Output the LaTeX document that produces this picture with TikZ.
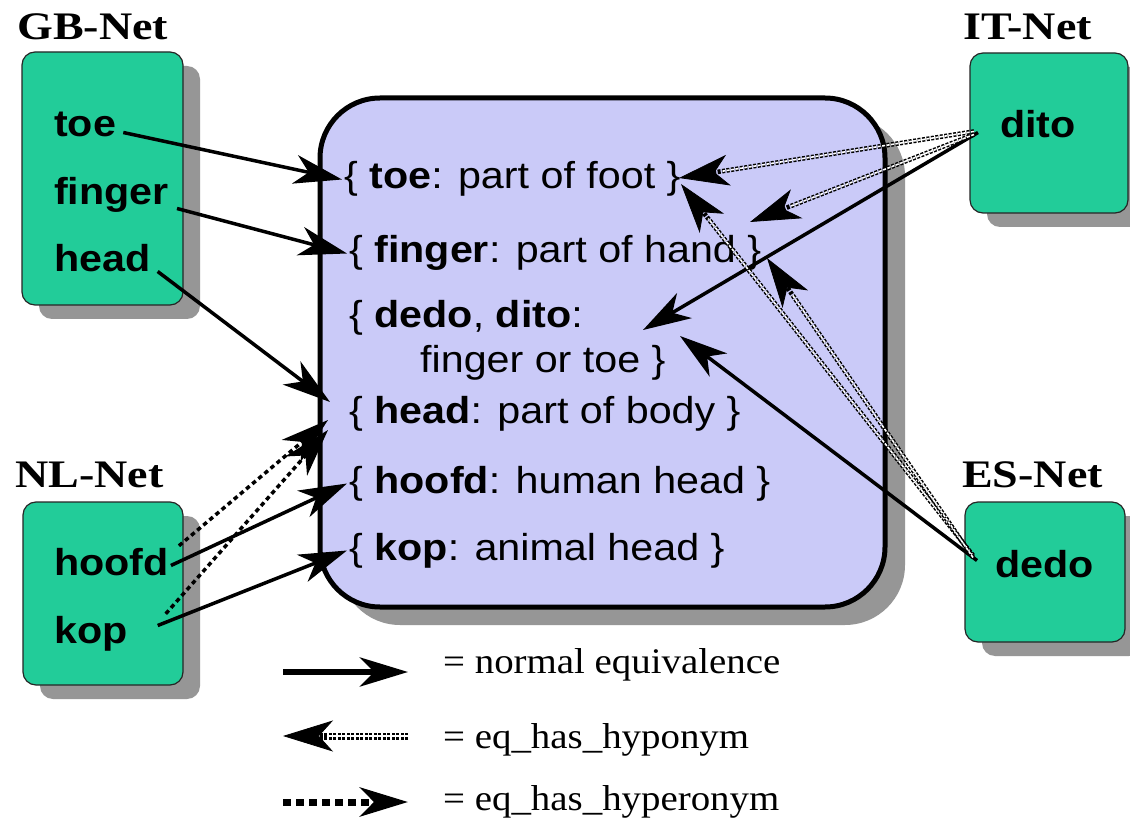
\documentclass[tikz,border=0pt]{standalone}
\usepackage{fontspec}
\usepackage{graphicx}
\setmainfont{Liberation Serif}
\setsansfont{Liberation Sans}
\usetikzlibrary{arrows.meta,shadows}

\definecolor{netgreen}{RGB}{34,204,153}
\definecolor{synsetblue}{RGB}{202,202,248}
\definecolor{shadowgray}{RGB}{150,150,150}

% horizontally widened text
\newcommand{\widetext}[2]{\scalebox{#1}[1]{#2}}

\tikzset{
  bigtip/.tip={Stealth[length=48pt,width=29pt,inset=14pt]},
  thintip/.tip={Stealth[length=50pt,width=31pt,inset=14pt,line width=0.8pt]},
  netbox/.style={draw=black!85, line width=1.2pt, fill=netgreen, rounded corners=13pt,
    drop shadow={shadow xshift=17pt, shadow yshift=-14pt, fill=shadowgray, opacity=1}},
  synbox/.style={draw=black, line width=5pt, fill=synsetblue, rounded corners=60pt,
    drop shadow={shadow xshift=20pt, shadow yshift=-18pt, fill=shadowgray, opacity=1}},
  nettitle/.style={anchor=base west, inner sep=0pt, font=\fontsize{39}{42}\selectfont\bfseries},
  word/.style={anchor=base west, inner sep=2pt, text height=27pt, text depth=8pt,
    font=\fontsize{37.5}{40}\selectfont\sffamily\bfseries},
  synset/.style={anchor=base west, inner sep=2pt, text height=27pt, text depth=8pt,
    font=\fontsize{37.5}{40}\selectfont\sffamily},
  legendtext/.style={anchor=base west, inner sep=0pt, font=\fontsize{36}{38}\selectfont},
  equiv/.style={line width=3.5pt, -bigtip},
  hyper/.style={line width=3.5pt, dash pattern=on 4.5pt off 3.5pt, -bigtip},
  % two thin dotted rails: a dotted band with a white dotted core
  hypo/.style={line width=4.6pt, dash pattern=on 3pt off 1.5pt, -thintip,
    postaction={draw=white, line width=1.6pt, -, shorten >=44pt}},
  legendline/.style={line width=6pt},
  legendhypo/.style={line width=7pt, postaction={draw=white, line width=2.4pt, -, shorten >=44pt}},
  legendhyper/.style={line width=7pt, dash pattern=on 8pt off 5pt}
}

\begin{document}
\begin{tikzpicture}[x=1pt,y=-1pt]
\useasboundingbox (0,0) rectangle (1130,834);
\fill[white] (0,0) rectangle (1130,834);

% wordnet titles
\node[nettitle] (gbtitle) at (17,40) {\widetext{1.18}{GB-Net}};
\node[nettitle] (ittitle) at (963,40) {\widetext{1.18}{IT-Net}};
\node[nettitle] (nltitle) at (15,487) {\widetext{1.18}{NL-Net}};
\node[nettitle] (estitle) at (962,487) {\widetext{1.18}{ES-Net}};

% wordnet boxes
\node[netbox, minimum width=161pt, minimum height=253pt] (gb) at (102.5,178.5) {};
\node[netbox, minimum width=160pt, minimum height=183pt] (nl) at (103,593.5) {};
\node[netbox, minimum width=158pt, minimum height=160pt] (it) at (1049,133) {};
\node[netbox, minimum width=160pt, minimum height=140pt] (es) at (1045,572) {};

% interlingual index
\node[synbox, minimum width=565pt, minimum height=509pt] (ili) at (602.5,352.5) {};

% words in the local wordnets
\node[word] (gbtoe) at (52,137) {\widetext{1.1}{toe}};
\node[word] (gbfinger) at (52,205) {\widetext{1.1}{finger}};
\node[word] (gbhead) at (52,272) {\widetext{1.1}{head}};
\node[word] (nlhoofd) at (52,575) {\widetext{1.1}{hoofd}};
\node[word] (nlkop) at (52,643) {\widetext{1.1}{kop}};
\node[word] (itdito) at (998,138) {\widetext{1.1}{dito}};
\node[word] (esdedo) at (993,577) {\widetext{1.1}{dedo}};

% records of the index
\node[synset] (ctoe) at (342,189) {\widetext{1.1}{\{ \textbf{toe}: part of foot \}}};
\node[synset] (cfinger) at (347,263) {\widetext{1.1}{\{ \textbf{finger}: part of hand \}}};
\node[synset] (cdedo) at (347,328) {\widetext{1.1}{\{ \textbf{dedo}, \textbf{dito}:}};
\node[synset] (cdedob) at (418,372) {\widetext{1.1}{finger or toe \}}};
\node[synset] (chead) at (347,423) {\widetext{1.1}{\{ \textbf{head}: part of body \}}};
\node[synset] (choofd) at (347,493) {\widetext{1.1}{\{ \textbf{hoofd}: human head \}}};
\node[synset] (ckop) at (347,560) {\widetext{1.1}{\{ \textbf{kop}: animal head \}}};

% arrow end points on the index
\coordinate (foot-a) at (679,178);
\coordinate (foot-b) at (681,184);
\coordinate (hand-a) at (750,222);
\coordinate (hand-b) at (767,258);
\coordinate (dd-a) at (643,330);
\coordinate (dd-b) at (680,336);
\coordinate (head-a) at (330,402);
\coordinate (head-b) at (328,420);
\coordinate (head-c) at (328,430);

% normal equivalence
\draw[equiv] ([xshift=5pt,yshift=-5pt]gbtoe.east) -- (ctoe.west);
\draw[equiv] ([xshift=6pt,yshift=-13pt]gbfinger.east) -- (cfinger.west);
\draw[equiv] ([xshift=5pt,yshift=-9pt]gbhead.east) -- (head-a);
\draw[equiv] (nlhoofd.east) -- (choofd.west);
\draw[equiv] ([xshift=28pt,yshift=8pt]nlkop.east) -- (ckop.west);
\draw[equiv] ([xshift=-20pt,yshift=-4pt]itdito.west) -- (dd-a);
\draw[equiv] ([xshift=-16pt,yshift=7pt]esdedo.west) -- (dd-b);

% eq_has_hyponym
\draw[hypo] ([xshift=-24pt,yshift=-3pt]itdito.west) -- (foot-a);
\draw[hypo] ([xshift=-24pt,yshift=-6pt]itdito.west) -- (hand-a);
\draw[hypo] ([xshift=-20pt,yshift=12pt]esdedo.west) -- (foot-b);
\draw[hypo] ([xshift=-20pt,yshift=10pt]esdedo.west) -- (hand-b);

% eq_has_hyperonym
\draw[hyper] ([xshift=8pt]nlhoofd.north east) -- (head-b);
\draw[hyper] ([xshift=36pt]nlkop.north east) -- (head-c);

% legend
\coordinate (l1a) at (283,672);
\coordinate (l1b) at (408,672);
\coordinate (l2a) at (408,736);
\coordinate (l2b) at (283,736);
\coordinate (l3a) at (283,802);
\coordinate (l3b) at (408,802);
\draw[equiv, legendline] (l1a) -- (l1b);
\draw[hypo, legendhypo] (l2a) -- (l2b);
\draw[hyper, legendhyper] (l3a) -- (l3b);
\node[legendtext] (lg1) at (443,673) {\widetext{1.08}{= normal equivalence}};
\node[legendtext] (lg2) at (443,748) {\widetext{1.08}{= eq\_has\_hyponym}};
\node[legendtext] (lg3) at (443,810) {\widetext{1.08}{= eq\_has\_hyperonym}};
\end{tikzpicture}
\end{document}
